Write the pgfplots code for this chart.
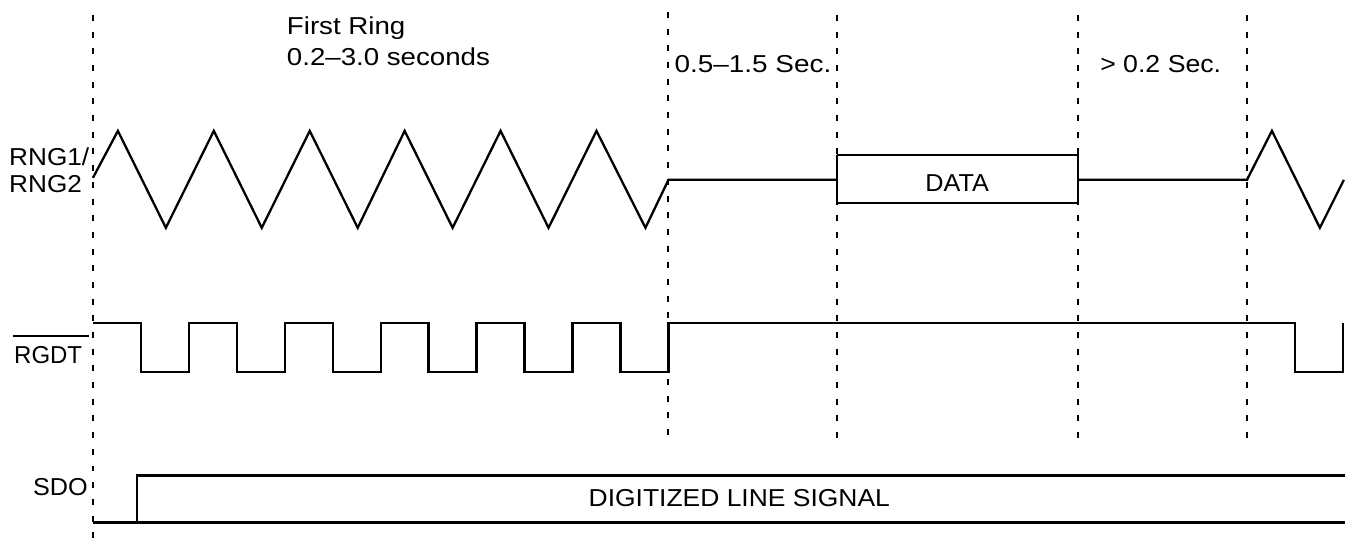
\documentclass[border=0pt]{standalone}
\usepackage{fontspec}
\setmainfont{Liberation Sans}
\usepackage{graphicx}
\usepackage{pgfplots}
\pgfplotsset{compat=1.18}
\newcommand\T[2]{\scalebox{#1}[1]{#2}}
\pgfplotsset{
  sig/.style={black, solid, line width=2.3pt, mark=none},
  guide/.style={black, mark=none, line width=2.1pt, dash pattern=on 6pt off 10.7pt},
}
\begin{document}
\begin{tikzpicture}
\begin{axis}[
  hide axis, scale only axis, width=1346pt, height=544pt,
  xmin=0, xmax=1346, ymin=0, ymax=544, y dir=reverse, clip=false,
  nodes={inner sep=0pt, font=\fontsize{24.5}{28}\selectfont},
]
\addplot[draw=none, mark=none] coordinates {(0,0) (1346,544)};
% dashed guides
\addplot[guide] coordinates {(93,15) (93,544)};
\addplot[guide] coordinates {(669,12) (669,443)};
\addplot[guide] coordinates {(838,15) (838,445)};
\addplot[guide] coordinates {(1079,15) (1079,445)};
\addplot[guide] coordinates {(1248,15) (1248,448)};
% RNG1/RNG2
\addplot[sig] coordinates {(93,178) (118,131) (166,228) (214,131) (262,228) (310,131) (358,228) (405,131) (453,228) (501,131) (549,228) (597,131) (646,228) (669,180) (838,180)};
\addplot[sig] coordinates {(838,155) (1079,155) (1079,203) (838,203) (838,155)};
\addplot[sig] coordinates {(1079,180) (1248,180) (1273,131) (1321,228) (1345,180)};
% RGDT
\addplot[sig] coordinates {(93,323) (141,323) (141,372) (189,372) (189,323) (237,323) (237,372) (285,372) (285,323) (333,323) (333,372) (381,372) (381,323) (429,323) (429,372) (477,372) (477,323) (525,323) (525,372) (573,372) (573,323) (621,323) (621,372) (669,372) (669,323) (1296,323) (1296,372) (1344,372) (1344,323)};
% SDO
\addplot[sig] coordinates {(93,523) (1346,523)};
\addplot[sig] coordinates {(137,523) (137,476) (1346,476)};
% labels
\node[anchor=base west] at (axis cs:287,35) {\T{1.13}{First Ring}};
\node[anchor=base west] at (axis cs:287,66) {\T{1.13}{0.2–3.0 seconds}};
\node[anchor=base west] at (axis cs:675,73) {\T{1.14}{0.5–1.5 Sec.}};
\node[anchor=base west] at (axis cs:1101,73) {\T{1.09}{> 0.2 Sec.}};
\node[anchor=base] at (axis cs:958,192) {\T{1.03}{DATA}};
\node[anchor=base west] at (axis cs:9,166) {\T{1.07}{RNG1/}};
\node[anchor=base west] at (axis cs:9,193) {\T{1.07}{RNG2}};
\node[anchor=base west] at (axis cs:14,364) {\T{0.98}{RGDT}};
\draw[line width=1.8pt] (axis cs:13,336) -- (axis cs:89,336);
\node[anchor=base west] at (axis cs:33,496) {\T{1.03}{SDO}};
\node[anchor=base west] at (axis cs:589,507) {\T{1.08}{DIGITIZED LINE SIGNAL}};
\end{axis}
\end{tikzpicture}
\end{document}
